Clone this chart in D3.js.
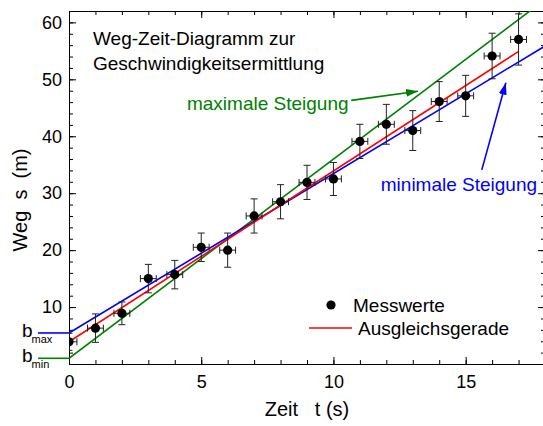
<!DOCTYPE html>
<html>
<head>
<meta charset="utf-8">
<script src="https://cdn.jsdelivr.net/npm/d3@7"></script>
<style>
    body { margin: 0; background: #fff; }
    svg { display: block; font-family: "Liberation Sans", Arial, sans-serif; }
    .axis text { font-size: 18px; fill: #000; }
    .axis path, .axis line { stroke: #000; stroke-width: 1; }
</style>
</head>
<body>
<svg id="chart" width="543" height="426"></svg>
<script>
// Messwerte
const zeit = [0, 1, 2, 3, 4, 5, 6, 7, 8, 9, 10, 11, 12, 13, 14, 15, 16, 17];
const weg = [3.9, 6.3, 8.9, 15.0, 15.7, 20.5, 20.0, 26.0, 28.5, 31.9, 32.5, 39.1, 42.1, 41.0, 46.1, 47.1, 54.1, 57.0];
const wegFehler = [1.5, 2.5, 2.0, 2.5, 2.5, 2.5, 3.0, 3.0, 3.0, 3.0, 2.9, 3.0, 3.5, 3.5, 3.5, 3.6, 4.0, 4.5];
const zeitFehler = [0.3, 0.3, 0.3, 0.3, 0.3, 0.3, 0.3, 0.3, 0.3, 0.3, 0.3, 0.3, 0.3, 0.3, 0.3, 0.3, 0.3, 0.3];

// Geraden: Achsenabschnitt b, Steigung m, Ende t
const geradenNamen = ['max', 'min', 'fit'];
const geradenB = [1.0, 5.45, 3.9];
const geradenM = [3.5, 2.8, 3.0];
const geradenEnde = [18, 18, 17];
const geradenFarben = ['#008000', '#0000ff', '#ff0000'];

// Achsen
const xTicksMajor = [0, 5, 10, 15];
const yTicksMajor = [10, 20, 30, 40, 50, 60];
const xDomain = [0, 18];
const yDomain = [0, 62];
const bLinieStart = -1.17;

// Anmerkungen (Datenkoordinaten)
const pfeilMax = [[10.67, 46.3], [13.2, 47.9]];
const pfeilMin = [[15.61, 34.1], [16.52, 49.4]];
const textMax = [4.46, 44.6];
const textMin = [11.79, 30.3];

const svg = d3.select('#chart');
const margin = { top: 11, left: 69, bottom: 62, right: -2 };
const width = 543 - margin.left - margin.right;
const height = 426 - margin.top - margin.bottom;

const x = d3.scaleLinear().domain(xDomain).range([margin.left, margin.left + width]);
const y = d3.scaleLinear().domain(yDomain).range([margin.top + height, margin.top]);

svg.append('defs').append('clipPath').attr('id', 'plot-clip')
    .append('rect')
    .attr('x', margin.left).attr('y', margin.top)
    .attr('width', width).attr('height', height);

function pfeilMarker(id, color) {
    svg.select('defs').append('marker')
        .attr('id', id)
        .attr('markerUnits', 'userSpaceOnUse')
        .attr('viewBox', '0 -5 12 10')
        .attr('refX', 12).attr('refY', 0)
        .attr('markerWidth', 12).attr('markerHeight', 10)
        .attr('orient', 'auto')
        .append('path')
        .attr('d', 'M0,-4L12,0L0,4Z')
        .attr('fill', color);
}
pfeilMarker('arrow-green', '#008000');
pfeilMarker('arrow-blue', '#0000ff');

const allT = d3.range(0, 19);
const allS = d3.range(0, 63, 2);

// unten
svg.append('g').attr('class', 'axis')
    .attr('transform', `translate(0, ${y(0)})`)
    .call(d3.axisBottom(x).tickValues(allT).tickSizeInner(-4).tickSizeOuter(0).tickFormat(''));
svg.append('g').attr('class', 'axis')
    .attr('transform', `translate(0, ${y(0)})`)
    .call(d3.axisBottom(x).tickValues(xTicksMajor).tickSizeInner(-7).tickSizeOuter(0).tickPadding(11))
    .call(g => g.select('.domain').remove());

// oben
svg.append('g').attr('class', 'axis')
    .attr('transform', `translate(0, ${margin.top})`)
    .call(d3.axisTop(x).tickValues(allT).tickSizeInner(-4).tickSizeOuter(0).tickFormat(''));
svg.append('g').attr('class', 'axis')
    .attr('transform', `translate(0, ${margin.top})`)
    .call(d3.axisTop(x).tickValues(xTicksMajor).tickSizeInner(-7).tickSizeOuter(0).tickFormat(''))
    .call(g => g.select('.domain').remove());

// links
svg.append('g').attr('class', 'axis')
    .attr('transform', `translate(${margin.left}, 0)`)
    .call(d3.axisLeft(y).tickValues(allS).tickSizeInner(-4).tickSizeOuter(0).tickFormat(''));
svg.append('g').attr('class', 'axis')
    .attr('transform', `translate(${margin.left}, 0)`)
    .call(d3.axisLeft(y).tickValues(yTicksMajor).tickSizeInner(-7).tickSizeOuter(0).tickPadding(7))
    .call(g => g.select('.domain').remove());

// rechts
svg.append('g').attr('class', 'axis')
    .attr('transform', `translate(${margin.left + width}, 0)`)
    .call(d3.axisRight(y).tickValues(allS).tickSizeInner(-4).tickSizeOuter(0).tickFormat(''));
svg.append('g').attr('class', 'axis')
    .attr('transform', `translate(${margin.left + width}, 0)`)
    .call(d3.axisRight(y).tickValues(yTicksMajor).tickSizeInner(-7).tickSizeOuter(0).tickFormat(''))
    .call(g => g.select('.domain').remove());

// Geraden
const geraden = geradenNamen.map((name, i) => ({
    name, b: geradenB[i], m: geradenM[i], ende: geradenEnde[i], farbe: geradenFarben[i]
}));

svg.append('g').attr('clip-path', 'url(#plot-clip)')
    .selectAll('line')
    .data(geraden)
    .join('line')
    .attr('x1', x(0)).attr('y1', d => y(d.b))
    .attr('x2', d => x(d.ende)).attr('y2', d => y(d.b + d.m * d.ende))
    .attr('stroke', d => d.farbe)
    .attr('stroke-width', 1.6);

// b_max / b_min Linien links
svg.append('g')
    .selectAll('line')
    .data(geraden.filter(d => d.name !== 'fit'))
    .join('line')
    .attr('x1', x(bLinieStart)).attr('x2', x(0))
    .attr('y1', d => y(d.b)).attr('y2', d => y(d.b))
    .attr('stroke', d => d.farbe)
    .attr('stroke-width', 1.6);

const bLabels = svg.append('g').attr('font-size', 19);
[['max', geradenB[1]], ['min', geradenB[0]]].forEach(([sub, b]) => {
    const t = bLabels.append('text')
        .attr('x', 22)
        .attr('y', y(b) + 4);
    t.append('tspan').text('b');
    t.append('tspan').attr('font-size', 11).attr('dy', 6).attr('dx', -1).text(sub);
});

// Fehlerbalken und Punkte
const messwerte = zeit.map((t, i) => ({ t, s: weg[i], ds: wegFehler[i], dt: zeitFehler[i] }));
const cap = 3.5;

const fehler = svg.append('g')
    .attr('clip-path', 'url(#plot-clip)')
    .attr('stroke', '#222')
    .attr('stroke-width', 1)
    .selectAll('g')
    .data(messwerte)
    .join('g');

fehler.append('line')
    .attr('x1', d => x(d.t)).attr('x2', d => x(d.t))
    .attr('y1', d => y(d.s - d.ds)).attr('y2', d => y(d.s + d.ds));
fehler.append('line')
    .attr('x1', d => x(d.t) - cap).attr('x2', d => x(d.t) + cap)
    .attr('y1', d => y(d.s - d.ds)).attr('y2', d => y(d.s - d.ds));
fehler.append('line')
    .attr('x1', d => x(d.t) - cap).attr('x2', d => x(d.t) + cap)
    .attr('y1', d => y(d.s + d.ds)).attr('y2', d => y(d.s + d.ds));
fehler.append('line')
    .attr('x1', d => x(d.t - d.dt)).attr('x2', d => x(d.t + d.dt))
    .attr('y1', d => y(d.s)).attr('y2', d => y(d.s));
fehler.append('line')
    .attr('x1', d => x(d.t - d.dt)).attr('x2', d => x(d.t - d.dt))
    .attr('y1', d => y(d.s) - cap).attr('y2', d => y(d.s) + cap);
fehler.append('line')
    .attr('x1', d => x(d.t + d.dt)).attr('x2', d => x(d.t + d.dt))
    .attr('y1', d => y(d.s) - cap).attr('y2', d => y(d.s) + cap);

svg.append('g')
    .attr('clip-path', 'url(#plot-clip)')
    .selectAll('circle')
    .data(messwerte)
    .join('circle')
    .attr('cx', d => x(d.t))
    .attr('cy', d => y(d.s))
    .attr('r', 4.6)
    .attr('fill', '#000');

// Pfeile und Beschriftungen
const pfeilLinie = d3.line().x(d => x(d[0])).y(d => y(d[1]));

svg.append('path')
    .attr('d', pfeilLinie(pfeilMax))
    .attr('stroke', '#008000').attr('stroke-width', 1.6).attr('fill', 'none')
    .attr('marker-end', 'url(#arrow-green)');
svg.append('path')
    .attr('d', pfeilLinie(pfeilMin))
    .attr('stroke', '#0000ff').attr('stroke-width', 1.6).attr('fill', 'none')
    .attr('marker-end', 'url(#arrow-blue)');

svg.append('text')
    .attr('x', x(textMax[0])).attr('y', y(textMax[1]))
    .attr('font-size', 19).attr('fill', '#008000')
    .text('maximale Steigung');
svg.append('text')
    .attr('x', x(textMin[0])).attr('y', y(textMin[1]))
    .attr('font-size', 19).attr('fill', '#0000ff')
    .text('minimale Steigung');

// Titel
const titel = svg.append('text').attr('x', 93).attr('y', 45).attr('font-size', 19);
titel.append('tspan').attr('x', 93).text('Weg-Zeit-Diagramm zur');
titel.append('tspan').attr('x', 93).attr('dy', 25).text('Geschwindigkeitsermittlung');

// Legende
const legende = svg.append('g').attr('font-size', 19);
legende.append('circle').attr('cx', 331).attr('cy', 305).attr('r', 4.6).attr('fill', '#000');
legende.append('text').attr('x', 353).attr('y', 312).text('Messwerte');
legende.append('line')
    .attr('x1', 309).attr('x2', 352).attr('y1', 328).attr('y2', 328)
    .attr('stroke', '#ff0000').attr('stroke-width', 1.6);
legende.append('text').attr('x', 358).attr('y', 335).text('Ausgleichsgerade');

// Achsentitel
svg.append('text')
    .attr('x', (x.range()[0] + x.range()[1]) / 2)
    .attr('y', 416)
    .attr('text-anchor', 'middle')
    .attr('font-size', 20)
    .style('white-space', 'pre')
    .text('Zeit   t (s)');

svg.append('text')
    .attr('transform', `translate(27, 200) rotate(-90)`)
    .attr('text-anchor', 'middle')
    .attr('font-size', 20)
    .style('white-space', 'pre')
    .text('Weg  s  (m)');
</script>
</body>
</html>
